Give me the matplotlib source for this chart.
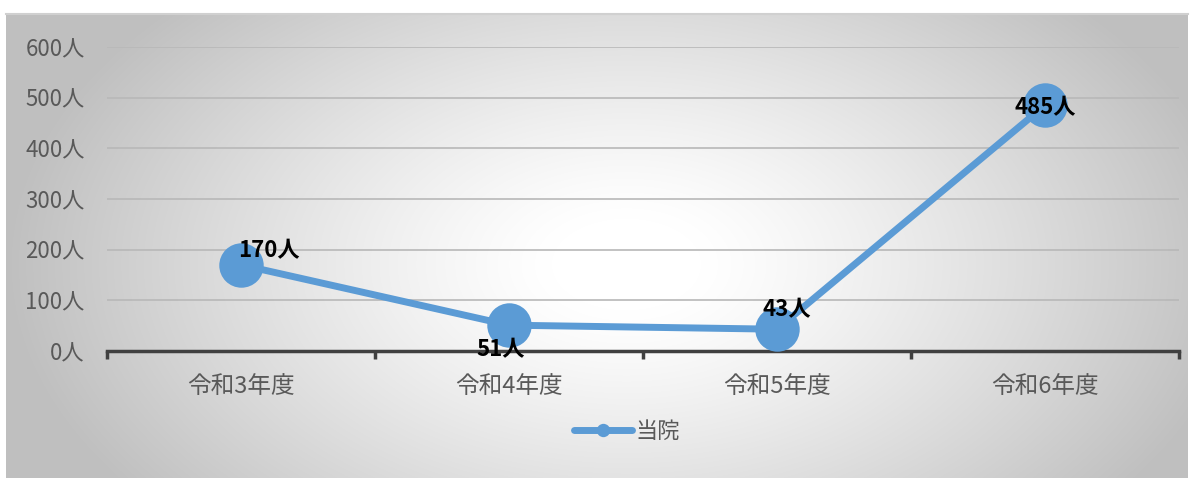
import numpy as np
import matplotlib
matplotlib.use("Agg")
import matplotlib.pyplot as plt

plt.rcParams['font.family'] = ['Noto Sans CJK JP', 'DejaVu Sans']

categories = ["令和3年度", "令和4年度", "令和5年度", "令和6年度"]
values = [170, 51, 43, 485]
series_name = "当院"
yticks = [0, 100, 200, 300, 400, 500, 600]

W, H = 1194, 478
fig = plt.figure(figsize=(W / 100, H / 100), dpi=100)
fig.patch.set_facecolor("white")

# background radial gradient for chart area
bg = fig.add_axes([6 / W, 0, (1188 - 6) / W, (478 - 14) / H])
bg.set_axis_off()
yy, xx = np.mgrid[0:464, 0:1182]
cx, cy = 620, 250
d = np.sqrt(((xx - cx) / 620.0) ** 2 + ((yy - cy) / 380.0) ** 2)
d = np.clip((d - 0.12) / 0.88, 0, 1)
val = 1.0 - 0.25 * d ** 1.2
img = np.dstack([val, val, val])
bg.imshow(img, aspect="auto", interpolation="bilinear", extent=[0, 1, 0, 1])
bg.set_xlim(0, 1)
bg.set_ylim(0, 1)
fig.add_artist(plt.Line2D([6 / W, 1188 / W], [1 - 14 / H, 1 - 14 / H],
                          transform=fig.transFigure, color="#d0d0d0", lw=1.5))

left, right = 107, 1179
top0, bot0 = 47, 351
ax = fig.add_axes([left / W, 1 - bot0 / H, (right - left) / W, (bot0 - top0) / H])
ax.patch.set_alpha(0)
x = np.arange(len(categories))
ax.set_xlim(-0.5, len(categories) - 0.5)
ax.set_ylim(0, 600)
for t in yticks[1:]:
    ax.axhline(t, color="#b8b8b8", lw=1.2, zorder=1)
ax.plot(x, values, color="#5b9bd5", lw=5, marker="o", markersize=32,
        markeredgewidth=0, zorder=3, label=series_name, solid_capstyle="round")

for s in ["top", "right", "left"]:
    ax.spines[s].set_visible(False)
ax.spines["bottom"].set_color("#404040")
ax.spines["bottom"].set_linewidth(2.5)
ax.set_yticks(yticks)
ax.set_yticklabels([f"{v}人" for v in yticks], fontsize=16, color="#595959")
ax.tick_params(axis="y", length=0, pad=16)
ax.set_xticks(np.arange(-0.5, len(categories), 1.0))
ax.set_xticklabels([])
ax.set_xticks(x, minor=True)
ax.set_xticklabels(categories, minor=True, fontsize=17, color="#595959")
ax.tick_params(axis="x", which="major", length=6, width=2.5, color="#404040", direction="out")
ax.tick_params(axis="x", which="minor", length=0, pad=17)

offsets = [(20, 10), (-6, -18), (7, 14), (0, -2)]
for xi, v, off in zip(x, values, offsets):
    ax.annotate(f"{v}人", (xi, v), xytext=off, textcoords="offset points",
                ha="center", va="center", fontsize=16, fontweight="bold",
                color="black", zorder=5)

leg = ax.legend(loc="center", bbox_to_anchor=(0.5 - 16 / (right - left), -0.265),
                frameon=False, fontsize=16, handlelength=2.6, markerscale=0.3,
                labelcolor="#595959", handletextpad=0.15)

fig.savefig("out.png", dpi=100, facecolor="white")
